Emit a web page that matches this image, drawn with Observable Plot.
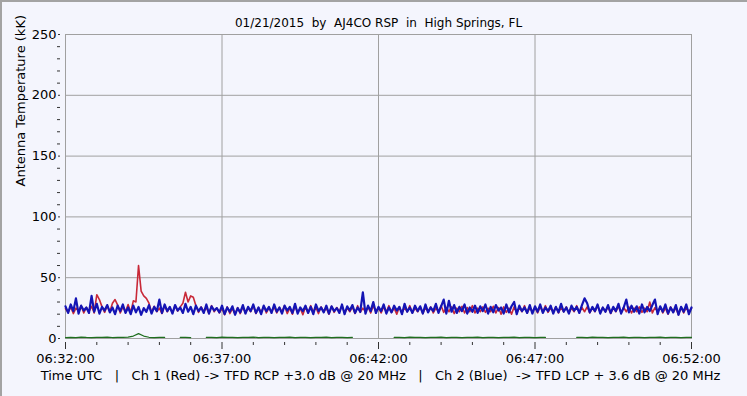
<!DOCTYPE html>
<html>
<head>
<meta charset="utf-8">
<script src="https://cdn.jsdelivr.net/npm/d3@7"></script>
<script src="https://cdn.jsdelivr.net/npm/@observablehq/plot@0.6"></script>
<style>
  html, body { margin: 0; padding: 0; background: #f4f5fd; }
  #wrap { position: relative; width: 747px; height: 396px; overflow: hidden; }
  #edge { position: absolute; left: 0; top: 0; width: 747px; height: 396px; box-sizing: border-box;
          border-left: 2px solid #a3a3a3; border-top: 2px solid #a3a3a3; pointer-events: none; }
  svg { display: block; }
</style>
</head>
<body>
<div id="wrap"><div id="chart"></div><div id="edge"></div></div>
<script>
// ---- text ----
const titleText = "01/21/2015  by  AJ4CO RSP  in  High Springs, FL";
const yLabel = "Antenna Temperature (kK)";
const captionText = "Time UTC   |   Ch 1 (Red) -> TFD RCP +3.0 dB @ 20 MHz   |   Ch 2 (Blue)  -> TFD LCP + 3.6 dB @ 20 MHz";

// ---- time axis ----
const dateStr = "2015-01-21";
const startClock = "06:32:00";
const endClock = "06:52:00";
const xMajorTicks = ["06:32:00", "06:37:00", "06:42:00", "06:47:00", "06:52:00"];
const xMinorTicks = ["06:33:00","06:34:00","06:35:00","06:36:00","06:38:00","06:39:00","06:40:00","06:41:00",
                     "06:43:00","06:44:00","06:45:00","06:46:00","06:48:00","06:49:00","06:50:00","06:51:00"];
const yMajorTicks = [0, 50, 100, 150, 200, 250];
const yMinorTicks = [10, 20, 30, 40, 60, 70, 80, 90, 110, 120, 130, 140, 160, 170, 180, 190, 210, 220, 230, 240];

// sample spacing (seconds) of the values
const chSampleSec = 5;
const greenSampleSec = 10;

// Ch 1 (Red), antenna temperature kK, every 5 s from 06:32:00
const redCh1 = [
  24.5, 21.5, 26, 20.5, 25, 22.5, 27, 21, 25.5, 22, 26.5, 21, 36, 32, 26, 21.5, 27, 22, 29, 32,
  27.5, 21, 26, 22, 28, 21.5, 31, 30, 60, 39, 35, 33, 29, 21.5, 26.5, 22, 25, 20.5, 27, 22,
  25.5, 21, 27, 22.5, 26, 29, 38, 30, 35, 34, 27, 21.5, 26, 22, 25.5, 20.5, 27, 22, 25, 21,
  25, 19.5, 26, 20.5, 24.5, 20, 25.5, 20.5, 26, 21, 25, 22, 27, 20.5, 25.5, 21.5, 26.5, 21, 25, 22,
  26, 21, 25.5, 22, 27, 20.5, 25, 20, 26.5, 21.5, 25, 19.5, 26, 21, 27, 22, 25.5, 20.5, 26, 22,
  25, 20, 26.5, 21.5, 25.5, 22, 27, 21, 25, 22, 26, 20.5, 27, 21.5, 25, 22, 26, 21, 27, 22,
  25.5, 21, 26, 22, 27, 21.5, 25, 20, 26, 21, 25.5, 22, 27, 21, 25, 22, 26, 20.5, 25.5, 22,
  26, 21, 25, 22, 27, 21.5, 25.5, 22, 26, 20.5, 25, 22, 26.5, 21, 25.5, 22, 27, 21, 25, 22,
  26, 21.5, 25, 22, 26.5, 21, 25.5, 20, 26, 21.5, 25, 20, 26, 21, 25.5, 22, 27, 21, 25, 22,
  25.5, 21, 26, 22, 27, 21.5, 25, 22, 26, 21, 25.5, 22, 26, 21, 25, 22, 27, 21.5, 25.5, 22,
  26, 21, 25, 22, 27, 21.5, 25.5, 22, 26, 20.5, 25, 22, 26.5, 21, 25.5, 22, 26, 21, 25, 22,
  26, 21.5, 25, 22, 30, 21, 25.5, 22, 26, 21, 25, 20, 26, 21.5, 25, 19.5, 26, 21, 25.5, 22, 25
];

// Ch 2 (Blue), antenna temperature kK, every 5 s from 06:32:00
const blueCh2 = [
  26.5, 21, 28, 22.5, 33, 20.5, 27, 23, 25.5, 21, 35, 22, 28.5, 20.5, 26, 23, 27.5, 21.5, 25.5, 20,
  27, 22.5, 28, 21, 25.5, 20, 27, 21.5, 26, 19.5, 25, 22, 27.5, 20.5, 26, 22.5, 32, 21, 28, 22.5,
  26, 20.5, 27.5, 23, 25.5, 21, 28.5, 22, 26, 20, 27, 22.5, 25.5, 21, 28, 20.5, 26.5, 23, 25, 21.5,
  27, 20, 25.5, 22, 26.5, 19.5, 25, 21.5, 27.5, 20.5, 26, 22.5, 28, 21, 25.5, 20, 27, 22.5, 26, 21,
  28, 22, 25.5, 20.5, 27, 23, 26, 21, 28.5, 20.5, 25.5, 22.5, 27, 21, 26, 20, 28, 22.5, 25.5, 21.5,
  27, 20.5, 26.5, 22.5, 25, 21, 28, 20, 26.5, 23, 27.5, 21, 25.5, 22, 38, 20.5, 27, 22.5, 30, 21,
  26, 22.5, 28, 20.5, 25.5, 21.5, 27, 23, 26, 20, 28.5, 22, 25.5, 21, 27, 22.5, 26.5, 20.5, 28, 21.5,
  25.5, 22.5, 28.5, 21, 26.5, 32, 20.5, 31, 22, 27.5, 21, 26, 22.5, 28, 20.5, 25.5, 22, 27, 21, 26.5,
  22.5, 28, 20.5, 26, 21.5, 27.5, 23, 25.5, 20.5, 28, 21.5, 26.5, 30, 20, 27, 22.5, 25.5, 21, 27.5, 20.5,
  26.5, 22, 28, 21, 25.5, 22.5, 27, 20.5, 26, 21.5, 28.5, 22, 25.5, 20.5, 27, 23, 26, 21, 27.5, 33,
  29, 21.5, 26, 22.5, 28, 20.5, 25.5, 22, 27.5, 21, 26, 22.5, 28.5, 20.5, 25.5, 32, 21.5, 27, 22, 26.5,
  20.5, 28, 21.5, 26, 22.5, 27.5, 32, 20, 26.5, 22, 28, 20.5, 25.5, 21.5, 27.5, 19.5, 26, 22, 28, 20, 25.5
];

// third trace (green), every 10 s; null where it is not drawn
const greenTrace = [
  0.8, 1.0, 0.8, 1.1, 0.9, 0.8, 1.0, 0.9, 1.2, 0.8, 1.0, 0.9, 1.1, 2.0, 4.0, 2.0, 1.0, 0.8, 1.0, 0.9,
  null, null, 0.9, 1.0, 0.8, null, null, 0.9, 1.0, 0.8, 1.1, 0.9, 1.0, 0.8, 1.0, 0.9, 1.1, 0.8, 1.0, 0.9,
  0.8, 1.0, 0.9, 1.1, 0.8, 1.0, 0.9, 0.8, 1.0, 0.9, 1.1, 0.8, 1.0, 0.9, 0.8, 1.0, null, null, null, null,
  null, null, null, 0.9, 1.0, 0.8, 1.1, 0.9, 1.0, 0.8, 1.0, 0.9, 1.1, 0.8, 1.0, 0.9, 0.8, 1.0, 0.9, 1.1,
  0.8, 1.0, 0.9, 0.8, 1.0, 0.9, 1.1, 0.8, 1.0, 0.9, 0.8, 1.0, 0.9, null, null, null, null, null, 0.9, 1.0,
  0.8, 1.1, 0.9, 1.0, 0.8, 1.0, 0.9, 1.1, 0.8, 1.0, 0.9, 0.8, 1.0, 0.9, 1.1, 0.8, 1.0, 0.9, 0.8, 1.0, 0.9
];

// ---- build ----
const at = (clock) => new Date(`${dateStr}T${clock}Z`);
const t0 = at(startClock).getTime();
const series = (arr, step) => arr.map((v, i) => ({t: new Date(t0 + i * step * 1000), v}));
const red = series(redCh1, chSampleSec);
const blue = series(blueCh2, chSampleSec);
const green = series(greenTrace, greenSampleSec);
const majorDates = xMajorTicks.map(at);
const minorDates = xMinorTicks.map(at);
const fmt = d3.utcFormat("%H:%M:%S");

const chart = Plot.plot({
  width: 747,
  height: 396,
  marginLeft: 65,
  marginRight: 56,
  marginTop: 34,
  marginBottom: 58,
  style: {fontFamily: "DejaVu Sans", fontSize: "13px", background: "transparent", color: "#000"},
  x: {type: "utc", domain: [at(startClock), at(endClock)]},
  y: {domain: [0, 250]},
  marks: [
    Plot.gridY(yMajorTicks.slice(1, -1), {stroke: "#a0a0a0", strokeOpacity: 1}),
    Plot.gridX(majorDates.slice(1, -1), {stroke: "#a0a0a0", strokeOpacity: 1}),
    Plot.frame({stroke: "#a0a0a0"}),
    Plot.lineY(green, {x: "t", y: "v", stroke: "#1e6e1e", strokeWidth: 1.2}),
    Plot.lineY(red, {x: "t", y: "v", stroke: "#c82838", strokeWidth: 1.6}),
    Plot.lineY(blue, {x: "t", y: "v", stroke: "#1414b4", strokeWidth: 2.2}),
    Plot.axisY(yMinorTicks, {tickSize: 3, dx: -5, text: null, stroke: "#333", label: null}),
    Plot.axisY(yMajorTicks, {tickSize: 2, dx: -5, tickPadding: 2, fontSize: 13, stroke: "#333", label: null}),
    Plot.axisX(minorDates, {tickSize: 3, dy: 4, text: null, stroke: "#333", label: null}),
    Plot.axisX(majorDates, {tickSize: 7, dy: 4, tickPadding: 4, fontSize: 13, tickFormat: fmt, stroke: "#333", label: null}),
    Plot.text([titleText], {frameAnchor: "top", dy: -16, fontSize: 12}),
    Plot.text([yLabel], {frameAnchor: "left", dx: -45, rotate: -90, fontSize: 13}),
    Plot.text([captionText], {frameAnchor: "bottom", dy: 41, dx: 2, fontSize: 13})
  ]
});
document.getElementById("chart").appendChild(chart);
</script>
</body>
</html>
